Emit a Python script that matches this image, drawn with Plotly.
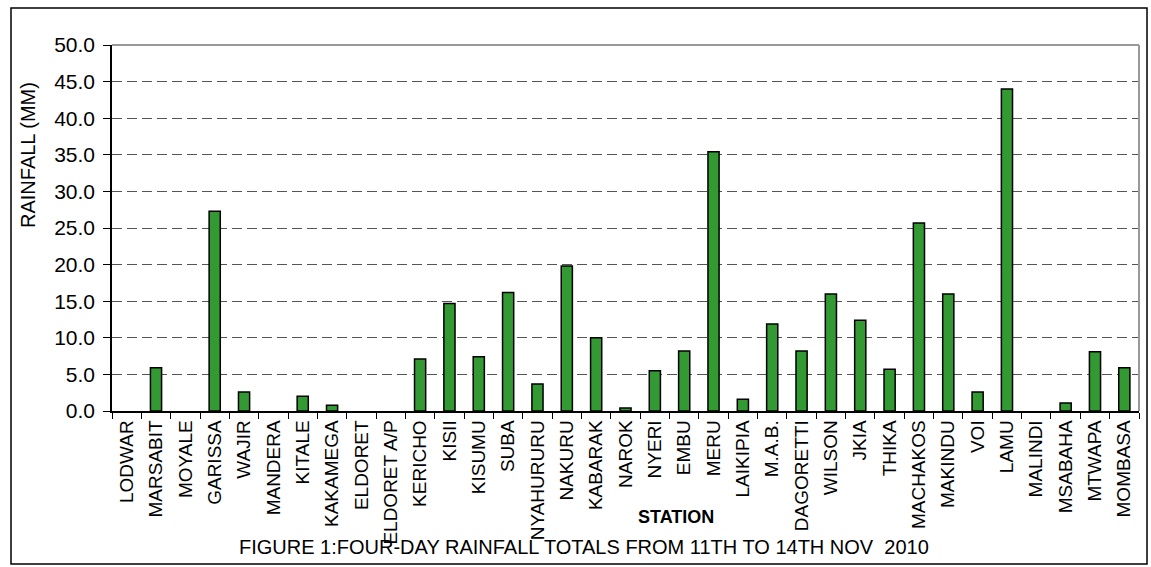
import plotly.graph_objects as go

stations = ["LODWAR", "MARSABIT", "MOYALE", "GARISSA", "WAJIR", "MANDERA", "KITALE",
            "KAKAMEGA", "ELDORET", "ELDORET A/P", "KERICHO", "KISII", "KISUMU", "SUBA",
            "NYAHURURU", "NAKURU", "KABARAK", "NAROK", "NYERI", "EMBU", "MERU", "LAIKIPIA",
            "M.A.B.", "DAGORETTI", "WILSON", "JKIA", "THIKA", "MACHAKOS", "MAKINDU", "VOI",
            "LAMU", "MALINDI", "MSABAHA", "MTWAPA", "MOMBASA"]
rainfall = [0.0, 5.9, 0.0, 27.3, 2.6, 0.0, 2.0,
            0.8, 0.0, 0.0, 7.1, 14.7, 7.4, 16.2,
            3.7, 19.8, 10.0, 0.4, 5.5, 8.2, 35.4, 1.6,
            11.9, 8.2, 16.0, 12.4, 5.7, 25.7, 16.0, 2.6,
            44.0, 0.0, 1.1, 8.1, 5.9]
y_ticks = [0, 5, 10, 15, 20, 25, 30, 35, 40, 45, 50]

FONT = "Liberation Sans, Arial, sans-serif"
W, H = 1151, 567
L, R, T, B = 112, 12, 45, 156
pw, ph = W - L - R, H - T - B

def px(x):
    return (x - L) / pw

def py(y):
    return (H - B - y) / ph

outline_w = [1.5 if v > 0 else 0 for v in rainfall]

fig = go.Figure(go.Bar(
    x=stations, y=rainfall,
    marker=dict(color="#339933", line=dict(color="black", width=outline_w)),
))

fig.update_layout(
    width=W, height=H,
    margin=dict(l=L, r=R, t=T, b=B),
    paper_bgcolor="white", plot_bgcolor="white",
    bargap=0.62,
    showlegend=False,
    font=dict(family=FONT, color="black", size=19),
    xaxis=dict(
        type="category", tickangle=-90, tickfont=dict(size=19),
        ticks="outside", tickson="boundaries", ticklen=6, tickcolor="black",
        showline=True, linecolor="black", linewidth=1.5, showgrid=False,
    ),
    yaxis=dict(
        range=[0, 50], tickvals=y_ticks, tickformat=".1f", tickfont=dict(size=21),
        ticks="outside", ticklen=7, tickcolor="black", ticklabelstandoff=4,
        showline=True, linecolor="black", linewidth=1.5,
        showgrid=True, gridcolor="#555555", griddash="10px,5px", gridwidth=1,
        zeroline=False,
    ),
    shapes=[
        dict(type="line", xref="paper", yref="paper", x0=0, x1=1, y0=1, y1=1,
             line=dict(color="#999999", width=2)),
        dict(type="line", xref="paper", yref="paper", x0=1, x1=1, y0=0, y1=1,
             line=dict(color="#999999", width=2)),
        dict(type="rect", xref="paper", yref="paper",
             x0=px(11), x1=px(1147), y0=py(8), y1=py(564),
             line=dict(color="black", width=1.5)),
    ],
    annotations=[
        dict(text="<b>STATION</b>", xref="paper", yref="paper",
             x=px(676), y=py(517), xanchor="center", yanchor="middle",
             showarrow=False, font=dict(size=18)),
        dict(text="FIGURE 1:FOUR-DAY RAINFALL TOTALS FROM 11TH TO 14TH NOV  2010",
             xref="paper", yref="paper", x=px(584), y=py(547),
             xanchor="center", yanchor="middle", showarrow=False,
             font=dict(size=20)),
        dict(text="RAINFALL (MM)", xref="paper", yref="paper", textangle=-90,
             x=px(28), y=py(155), xanchor="center", yanchor="middle",
             showarrow=False, font=dict(size=20)),
    ],
)

fig.write_html("out.html", config={"displayModeBar": False},
               post_script="document.body.style.margin='0';")
